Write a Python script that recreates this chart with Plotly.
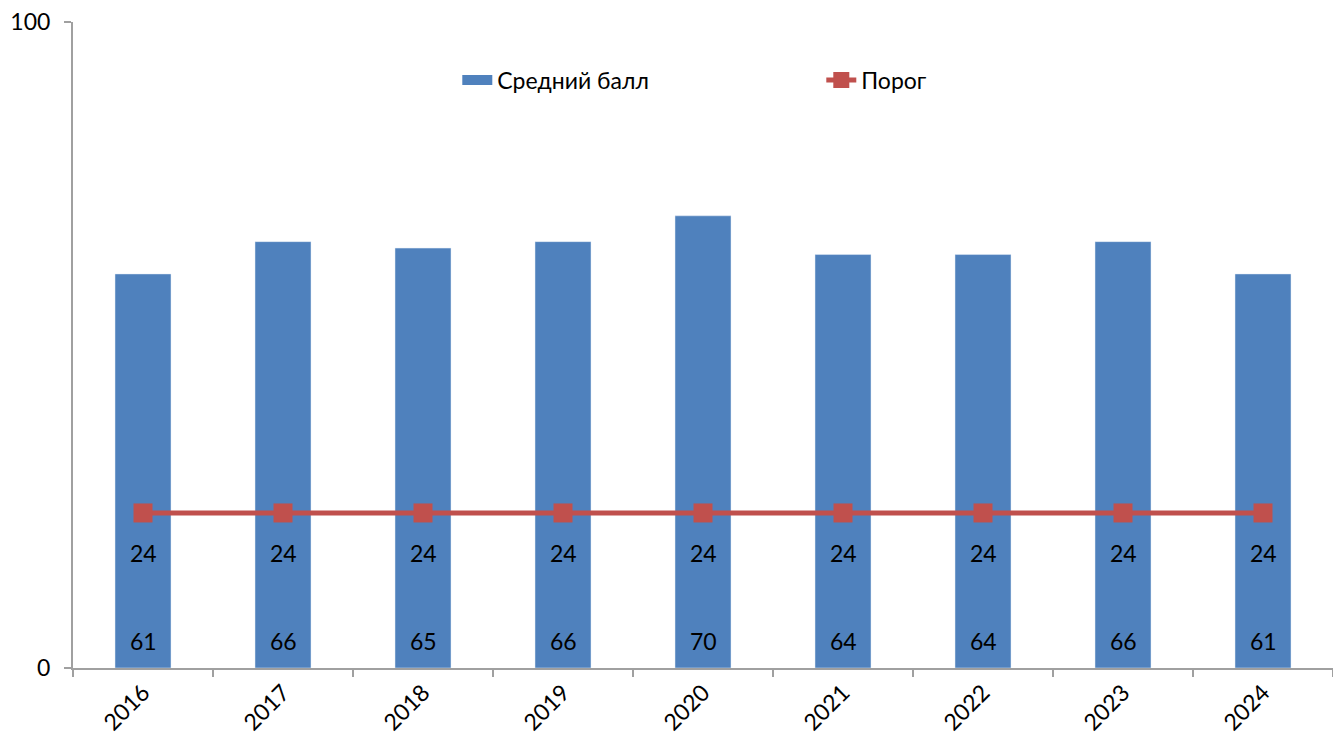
import plotly.graph_objects as go

years = ["2016", "2017", "2018", "2019", "2020", "2021", "2022", "2023", "2024"]
avg_score = [61, 66, 65, 66, 70, 64, 64, 66, 61]
threshold = [24, 24, 24, 24, 24, 24, 24, 24, 24]

FONT = "Lato"
BLUE = "#4F81BD"
RED = "#C0504D"
fig = go.Figure()

fig.add_trace(go.Bar(
    x=years, y=avg_score, name="Средний балл",
    marker_color=BLUE, width=0.4, showlegend=False,
))
# legend entry drawn as a wide block, like the original
fig.add_trace(go.Scatter(
    x=[None], y=[None], name="Средний балл", mode="lines",
    line=dict(color=BLUE, width=14),
))
fig.add_trace(go.Scatter(
    x=years, y=threshold, name="Порог", mode="lines+markers",
    line=dict(color=RED, width=5),
    marker=dict(symbol="square", size=19, color=RED),
))

# data labels (category index positions)
for i, v in enumerate(avg_score):
    fig.add_annotation(x=i, y=0, text=str(v), showarrow=False,
                       yanchor="middle", yshift=27,
                       font=dict(family=FONT, size=23, color="black"))
for i, v in enumerate(threshold):
    fig.add_annotation(x=i, y=v, text=str(v), showarrow=False,
                       yanchor="middle", yshift=-40,
                       font=dict(family=FONT, size=23, color="black"))

fig.update_layout(
    width=1333, height=745,
    margin=dict(l=73, r=0, t=22, b=77),
    plot_bgcolor="white", paper_bgcolor="white",
    font=dict(family=FONT, size=23, color="black"),
    showlegend=True,
    legend=dict(orientation="h", x=0.305, y=0.91, xanchor="left", yanchor="middle",
                entrywidth=319, entrywidthmode="pixels",
                font=dict(family=FONT, size=23), bgcolor="rgba(0,0,0,0)"),
)
fig.update_xaxes(
    type="category",
    showline=True, linecolor="#A0A0A0", linewidth=2,
    ticks="outside", ticklen=7, tickcolor="#A0A0A0", tickwidth=2,
    tickson="boundaries", tickangle=-45, showgrid=False,
    range=[-0.5, 8.5],
)
fig.update_yaxes(
    range=[0, 100], dtick=100, showline=True, linecolor="#A0A0A0", linewidth=2,
    ticks="outside", ticklen=7, tickcolor="#A0A0A0", tickwidth=2,
    showgrid=True, gridcolor="#A0A0A0", gridwidth=2, zeroline=False,
    ticklabelstandoff=9,
)

fig.write_html("out.html", config={"displayModeBar": False},
               post_script="document.body.style.margin='0';")
